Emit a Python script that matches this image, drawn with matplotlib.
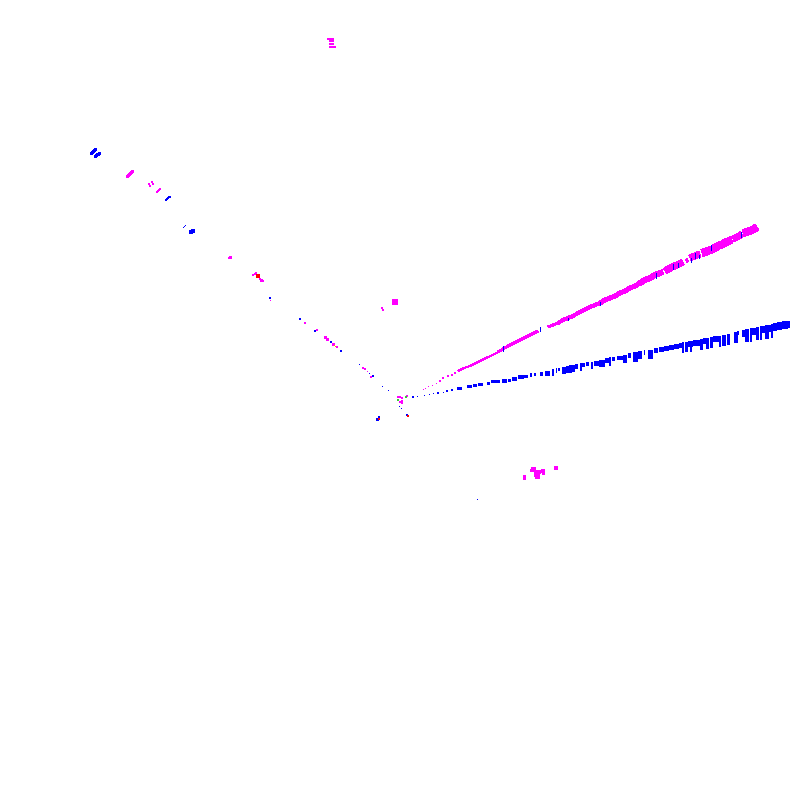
import numpy as np
import matplotlib
matplotlib.use('Agg')
import matplotlib.pyplot as plt
from matplotlib.collections import LineCollection

BLUE = '#0000ff'
MAGENTA = '#ff00ff'

# blue fan, hits as boxes (pixels of the image)
blue_left = [457, 467, 473, 478, 487, 491, 502, 508, 512, 518, 524, 530, 534, 540, 545, 552, 556, 558,
             562, 566, 569, 572, 575, 580, 580, 586, 591, 594, 599, 605, 609, 612, 617, 623, 628, 633, 638, 644,
             648, 654, 659, 664, 669, 674, 679, 682, 685, 688, 690, 693, 700, 703, 706, 710, 713, 719, 722, 727,
             734, 737, 742, 745, 750, 752, 756, 760, 762, 765, 769, 771, 773, 777, 782, 788]
blue_right = [462, 472, 477, 483, 490, 500, 507, 511, 517, 524, 528, 532, 536, 543, 550, 554, 557, 560,
              566, 569, 572, 575, 578, 585, 582, 589, 593, 599, 605, 609, 611, 615, 624, 627, 631, 638, 642, 645,
              653, 658, 664, 669, 674, 679, 682, 684, 688, 693, 692, 700, 703, 706, 709, 713, 719, 721, 726, 730,
              738, 739, 745, 749, 752, 756, 759, 762, 765, 769, 771, 773, 777, 782, 788, 790]
blue_top = [387, 385, 384, 383, 382, 380, 379, 379, 377, 375, 375, 373, 373, 372, 371, 369, 368, 368,
            367, 366, 365, 365, 364, 363, 363, 362, 362, 361, 360, 358, 357, 357, 356, 355, 353, 352, 351, 350,
            350, 348, 347, 346, 345, 344, 343, 342, 342, 341, 341, 340, 339, 338, 338, 337, 336, 336, 335, 334,
            332, 331, 330, 329, 328, 328, 327, 326, 326, 325, 325, 324, 323, 322, 321, 321]
blue_bottom = [390, 388, 387, 386, 385, 383, 383, 382, 381, 379, 378, 377, 376, 376, 376, 376, 373, 371,
               374, 373, 373, 372, 369, 367, 371, 366, 369, 366, 367, 363, 366, 361, 360, 363, 358, 362, 359, 355,
               359, 353, 352, 351, 350, 349, 348, 353, 352, 347, 352, 346, 350, 344, 349, 348, 342, 347, 346, 345,
               343, 335, 337, 342, 342, 335, 340, 340, 333, 339, 332, 338, 331, 330, 329, 328]

# blue ticks crossing the magenta fan
tick_x = [503, 540, 568, 600, 656, 673, 678, 691, 695, 699, 711, 741]
tick_top = [346, 327, 318, 302, 273, 264, 263, 258, 253, 255, 245, 232]
tick_bottom = [351, 331, 320, 305, 278, 269, 267, 262, 258, 258, 250, 237]

# magenta fan: read points along the track with its thickness, None where the track has a gap
fan_x = [458, 464, 470, 476, 482, 488, 493, 498, 503, 508, 514, 520, 526, 532, 538, None,
         548, 553, 558, 563, 568, 573, 578, 584, 590, 595, 600, 605, 610, 615, 620, 625,
         630, 635, 640, 645, 650, 655, 660, 663, None, 665, 672, 677, 683, None, 686, 688, None,
         690, 697, 700, None, 702, 708, 713, 718, 723, 728, 732, None, 733, 739, 742, None, 743, 750, 754, 757]
fan_y = [371, 368, 366, 363, 360, 357, 355, 352, 349, 346, 343, 340, 337, 334, 331, None,
         327, 325, 323, 320, 318, 316, 313, 310, 307, 305, 303, 300, 298, 296, 293, 291,
         288, 286, 283, 280, 278, 275, 273, 272, None, 271, 267, 265, 262, None, 261, 260, None,
         258, 255, 254, None, 253, 251, 249, 246, 244, 241, 240, None, 239, 236, 234, None, 233, 231, 229, 227]
fan_w = [1, 1, 1, 1, 1, 1, 1, 2, 2, 2, 2, 2, 2, 2, 2, None,
         2, 2, 3, 3, 3, 3, 3, 3, 3, 3, 4, 4, 4, 4, 4, 4,
         4, 4, 5, 5, 5, 5, 5, 5, None, 6, 6, 6, 6, None, 3, 3, None,
         6, 6, 6, None, 7, 7, 7, 7, 7, 7, 7, None, 6, 6, 6, None, 7, 7, 7, 7]

# magenta dots near the vertex
vtx_x = [423, 425, 428, 432, 436, 440, 443, 448, 452, 455]
vtx_y = [389, 388, 386, 385, 383, 381, 378, 376, 375, 373]

# isolated magenta clusters
mag_x = [96, 98, 100, 127, 128, 129, 130, 131, 132, 150, 152, 149, 153, 150, 152, 157, 158, 159, 160,
         230, 229, 255, 253, 256, 260, 262, 263, 261, 270, 305, 317, 325, 327, 333, 337, 363, 365, 367, 371,
         395, 393, 397, 382, 383, 398, 400, 402, 402, 402, 400, 407,
         533, 531, 535, 536, 537, 539, 543, 543, 556, 524, 524]
mag_y = [157, 155, 153, 176, 175, 174, 173, 172, 171, 186, 182, 184, 184, 186, 182, 192, 191, 190, 189,
         257, 258, 274, 275, 273, 279, 280, 281, 281, 300, 323, 330, 337, 339, 344, 347, 368, 369, 371, 377,
         302, 303, 302, 308, 310, 397, 397, 398, 401, 403, 402, 396,
         469, 470, 471, 474, 476, 472, 471, 473, 468, 476, 478]
mag_px = [2, 2, 2, 3, 3, 3, 3, 3, 3, 2, 2, 2, 2, 2, 2, 2, 2, 2, 2,
          3, 2, 2, 2, 2, 2, 2, 2, 2, 1, 2, 2, 3, 3, 3, 2, 2, 2, 1, 2,
          6, 2, 2, 2, 2, 2, 2, 2, 2, 2, 2, 2,
          5, 3, 3, 5, 5, 4, 4, 3, 4, 3, 3]

# magenta stripes of the top cluster
stripe_left = [327, 329, 329, 329]
stripe_right = [334, 334, 334, 336]
stripe_top = [38, 40, 43, 46]
stripe_bottom = [40, 42, 45, 48]

# isolated blue clusters
dot_x = [91, 92, 93, 94, 95, 95, 96, 97, 98, 99, 166, 167, 168, 169, 170, 183, 184, 185, 191, 193,
         270, 300, 315, 331, 341, 359, 369, 373, 382, 388, 399, 401, 377, 379, 407,
         413, 417, 424, 429, 433, 438, 443, 447, 452, 477]
dot_y = [153, 152, 151, 150, 149, 156, 155, 154, 154, 153, 200, 199, 198, 197, 197, 227, 226, 225, 232, 231,
         298, 319, 331, 342, 351, 364, 373, 376, 386, 390, 406, 408, 419, 417, 415,
         397, 396, 395, 394, 393, 393, 392, 391, 390, 499]
dot_px = [3, 3, 3, 3, 3, 3, 3, 3, 3, 3, 2, 2, 2, 2, 2, 1, 1, 1, 4, 4,
          2, 2, 2, 2, 2, 1, 1, 2, 1, 1, 1, 1, 3, 2, 2,
          2, 1, 1, 1, 1, 2, 1, 2, 2, 1]

# the few red, orange and green hits
red_x = [258, 379, 408]
red_y = [276, 419, 416]
red_px = [4, 2, 2]
orange_x = [334, 335]
orange_y = [345, 346]
green_x = [398, 406]
green_y = [400, 397]


def squares(ax, x, y, px, color):
    s = (np.array(px) * 0.72) ** 2
    ax.scatter(x, y, s=s, c=color, marker='s', linewidths=0, antialiaseds=False)


def boxes(ax, left, right, top, bottom, color):
    left = np.array(left)
    top = np.array(top)
    ax.bar(left, np.array(bottom) - top, width=np.array(right) - left, bottom=top,
           align='edge', color=color, linewidth=0, antialiased=False)


fig = plt.figure(figsize=(8, 8), dpi=100)
ax = fig.add_axes([0, 0, 1, 1], xlim=(0, 800), ylim=(800, 0))
ax.axis('off')

segs, widths = [], []
for i in range(len(fan_x) - 1):
    if fan_x[i] is None or fan_x[i + 1] is None:
        continue
    segs.append([(fan_x[i], fan_y[i]), (fan_x[i + 1], fan_y[i + 1])])
    widths.append(fan_w[i] * 0.72)
ax.add_collection(LineCollection(segs, colors=MAGENTA, linewidths=widths, capstyle='butt', antialiaseds=False))

squares(ax, vtx_x, vtx_y, [1, 1, 1, 1, 1, 2, 2, 2, 2, 2], MAGENTA)
squares(ax, mag_x, mag_y, mag_px, MAGENTA)
boxes(ax, stripe_left, stripe_right, stripe_top, stripe_bottom, MAGENTA)
squares(ax, dot_x, dot_y, dot_px, BLUE)

boxes(ax, blue_left, blue_right, blue_top, blue_bottom, BLUE)
ax.vlines(tick_x, tick_top, tick_bottom, color=BLUE, lw=0.72, antialiased=False)

squares(ax, red_x, red_y, red_px, '#ff0000')
squares(ax, orange_x, orange_y, [1, 1], '#ff9900')
squares(ax, green_x, green_y, [2, 2], '#33cc33')

fig.savefig('out.png', dpi=100)
